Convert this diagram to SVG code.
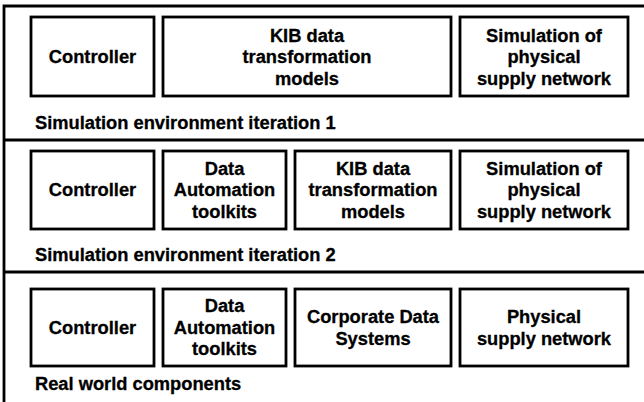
<svg xmlns="http://www.w3.org/2000/svg" width="644" height="402" viewBox="0 0 644 402">
<style>
.box{fill:#fff;stroke:#000;stroke-width:2.8}
.frame{fill:none;stroke:#000;stroke-width:2.8}
text{font-family:"Liberation Sans",Arial,sans-serif;font-weight:bold;font-size:18.3px;fill:#000;stroke:#000;stroke-width:0.3}
.c{text-anchor:middle}
</style>
<rect width="644" height="402" fill="#fff"/>
<g id="frame">
<path class="frame" d="M644 6H4V402M4 140H644M4 272H644"/>
</g>
<g id="labels">
<text x="35" y="129">Simulation environment iteration 1</text>
<text x="35" y="261">Simulation environment iteration 2</text>
<text x="35" y="390">Real world components</text>
</g>
<g id="connectors"></g>
<g id="r1-controller"><rect class="box" x="31" y="17" width="123" height="79"/><text class="c" x="92.5" y="63">Controller</text></g>
<g id="r1-kib"><rect class="box" x="163" y="17" width="288" height="79"/><text class="c" x="307" y="41.5">KIB data</text><text class="c" x="307" y="63">transformation</text><text class="c" x="307" y="84.5">models</text></g>
<g id="r1-sim"><rect class="box" x="460" y="17" width="168" height="79"/><text class="c" x="544" y="41.5">Simulation of</text><text class="c" x="544" y="63">physical</text><text class="c" x="544" y="84.5">supply network</text></g>
<g id="r2-controller"><rect class="box" x="31" y="151" width="123" height="78"/><text class="c" x="92.5" y="196">Controller</text></g>
<g id="r2-dat"><rect class="box" x="163" y="151" width="123" height="78"/><text class="c" x="224.5" y="174.5">Data</text><text class="c" x="224.5" y="196">Automation</text><text class="c" x="224.5" y="217.5">toolkits</text></g>
<g id="r2-kib"><rect class="box" x="295" y="151" width="156" height="78"/><text class="c" x="373" y="174.5">KIB data</text><text class="c" x="373" y="196">transformation</text><text class="c" x="373" y="217.5">models</text></g>
<g id="r2-sim"><rect class="box" x="460" y="151" width="168" height="78"/><text class="c" x="544" y="174.5">Simulation of</text><text class="c" x="544" y="196">physical</text><text class="c" x="544" y="217.5">supply network</text></g>
<g id="r3-controller"><rect class="box" x="31" y="289" width="123" height="77"/><text class="c" x="92.5" y="333.5">Controller</text></g>
<g id="r3-dat"><rect class="box" x="163" y="289" width="123" height="77"/><text class="c" x="224.5" y="312">Data</text><text class="c" x="224.5" y="333.5">Automation</text><text class="c" x="224.5" y="355">toolkits</text></g>
<g id="r3-corp"><rect class="box" x="295" y="289" width="156" height="77"/><text class="c" x="373" y="323">Corporate Data</text><text class="c" x="373" y="344.5">Systems</text></g>
<g id="r3-phys"><rect class="box" x="460" y="289" width="168" height="77"/><text class="c" x="544" y="323">Physical</text><text class="c" x="544" y="344.5">supply network</text></g>
</svg>
